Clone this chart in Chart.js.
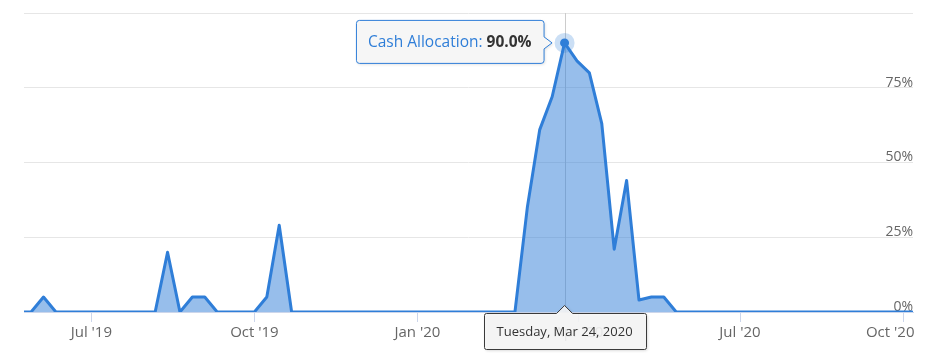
<!DOCTYPE html>
<html>
<head>
<meta charset="utf-8">
<script src="https://cdn.jsdelivr.net/npm/chart.js@4.4.0/dist/chart.umd.min.js"></script>
<style>
  html, body { margin: 0; padding: 0; background: #ffffff; }
  #wrap { width: 940px; height: 362px; }
</style>
</head>
<body>
<div id="wrap"><canvas id="c" width="940" height="362"></canvas></div>
<script>
// ---------------- data ----------------
const seriesName = 'Cash Allocation';
const firstWeek = '2019-05-21';          // weekly observations (Tuesdays)
const cashAllocation = [
  0, 0, 5, 0, 0, 0, 0, 0, 0, 0, 0, 0, 20, 0, 5, 5, 0, 0, 0, 0, 5, 29, 0,
  0, 0, 0, 0, 0, 0, 0, 0, 0, 0, 0, 0, 0, 0, 0, 0, 0, 0,
  35, 61, 72, 90, 84, 80, 63, 21, 44, 4, 5, 5, 0,
  0, 0, 0, 0, 0, 0, 0, 0, 0, 0, 0, 0, 0, 0, 0, 0, 0, 0, 0
];
const xTickDates = ['2019-07-01', '2019-10-01', '2020-01-01', '2020-04-01', '2020-07-01', '2020-10-01'];
const xTickLabels = ["Jul '19", "Oct '19", "Jan '20", "Apr '20", "Jul '20", "Oct '20"];
const yTickValues = [0, 25, 50, 75, 100];
const yTickLabels = ['0%', '25%', '50%', '75%', ''];
const viewStart = '2019-05-24';
const viewEnd = '2020-10-06';
const highlightDate = '2020-03-24';

// ---------------- helpers ----------------
const DAY = 86400000;
function toDay(s) { const [y, m, d] = s.split('-').map(Number); return Date.UTC(y, m - 1, d) / DAY; }
const weekDays = cashAllocation.map((_, i) => toDay(firstWeek) + i * 7);
const points = cashAllocation.map((v, i) => ({ x: weekDays[i], y: v }));
const xTickDays = xTickDates.map(toDay);
const hiIndex = weekDays.indexOf(toDay(highlightDate));

const DOW = ['Sunday', 'Monday', 'Tuesday', 'Wednesday', 'Thursday', 'Friday', 'Saturday'];
const MON = ['Jan', 'Feb', 'Mar', 'Apr', 'May', 'Jun', 'Jul', 'Aug', 'Sep', 'Oct', 'Nov', 'Dec'];
function fmtDate(day) {
  const d = new Date(day * DAY);
  return DOW[d.getUTCDay()] + ', ' + MON[d.getUTCMonth()] + ' ' + d.getUTCDate() + ', ' + d.getUTCFullYear();
}

const LINE = '#2f7ed8';
const FONT = '"Open Sans", "DejaVu Sans", sans-serif';

function calloutPath(ctx, x, y, w, h, r, caret) {
  ctx.beginPath();
  ctx.moveTo(x + r, y);
  if (caret && caret.side === 'top') {
    ctx.lineTo(caret.at - 8, y);
    ctx.lineTo(caret.at, y - 8);
    ctx.lineTo(caret.at + 8, y);
  }
  ctx.lineTo(x + w - r, y);
  ctx.arcTo(x + w, y, x + w, y + r, r);
  if (caret && caret.side === 'right') {
    ctx.lineTo(x + w, caret.at - 6);
    ctx.lineTo(x + w + 8, caret.at);
    ctx.lineTo(x + w, caret.at + 6);
  }
  ctx.lineTo(x + w, y + h - r);
  ctx.arcTo(x + w, y + h, x + w - r, y + h, r);
  ctx.lineTo(x + r, y + h);
  ctx.arcTo(x, y + h, x, y + h - r, r);
  ctx.lineTo(x, y + r);
  ctx.arcTo(x, y, x + r, y, r);
  ctx.closePath();
}

const overlay = {
  id: 'overlay',
  beforeDatasetsDraw(chart) {
    const el = chart.getDatasetMeta(0).data[hiIndex];
    const a = chart.chartArea;
    const ctx = chart.ctx;
    ctx.save();
    ctx.strokeStyle = '#cccccc';
    ctx.lineWidth = 1;
    ctx.beginPath();
    ctx.moveTo(Math.round(el.x) + 0.5, a.top);
    ctx.lineTo(Math.round(el.x) + 0.5, a.bottom);
    ctx.stroke();
    ctx.restore();
  },
  afterDraw(chart) {
    const el = chart.getDatasetMeta(0).data[hiIndex];
    const a = chart.chartArea;
    const ctx = chart.ctx;
    const px = el.x, py = el.y;
    ctx.save();
    // halo + marker
    ctx.fillStyle = 'rgba(47,126,216,0.25)';
    ctx.beginPath(); ctx.arc(px, py, 10, 0, Math.PI * 2); ctx.fill();
    ctx.fillStyle = LINE;
    ctx.beginPath(); ctx.arc(px, py, 4.5, 0, Math.PI * 2); ctx.fill();

    // value tooltip
    const labelTxt = seriesName + ': ';
    const valTxt = cashAllocation[hiIndex].toFixed(1) + '%';
    ctx.font = '15.5px ' + FONT;
    const w1 = ctx.measureText(labelTxt).width;
    ctx.font = 'bold 15.5px ' + FONT;
    const w2 = ctx.measureText(valTxt).width;
    const bw = w1 + w2 + 24, bh = 43;
    const bx = px - 21 - bw, by = py - 23;
    ctx.shadowColor = 'rgba(0,0,0,0.15)';
    ctx.shadowBlur = 3; ctx.shadowOffsetX = 1; ctx.shadowOffsetY = 1;
    calloutPath(ctx, bx + 0.5, by + 0.5, bw, bh, 3, { side: 'right', at: py });
    ctx.fillStyle = 'rgba(247,247,247,0.92)';
    ctx.fill();
    ctx.shadowColor = 'transparent';
    ctx.strokeStyle = LINE; ctx.lineWidth = 1; ctx.stroke();
    ctx.textBaseline = 'middle'; ctx.textAlign = 'left';
    ctx.font = '15.5px ' + FONT; ctx.fillStyle = LINE;
    ctx.fillText(labelTxt, bx + 12, by + bh / 2 + 1);
    ctx.font = 'bold 15.5px ' + FONT; ctx.fillStyle = '#333333';
    ctx.fillText(valTxt, bx + 12 + w1, by + bh / 2 + 1);

    // date label on x axis
    const dTxt = fmtDate(weekDays[hiIndex]);
    ctx.font = '13px ' + FONT;
    const dw = ctx.measureText(dTxt).width + 26, dh = 36;
    const dx = Math.round(px - dw / 2), dy = a.bottom + 1;
    ctx.shadowColor = 'rgba(0,0,0,0.2)';
    ctx.shadowBlur = 3; ctx.shadowOffsetX = 1; ctx.shadowOffsetY = 1;
    calloutPath(ctx, dx + 0.5, dy + 0.5, dw, dh, 2, { side: 'top', at: px });
    ctx.fillStyle = 'rgba(247,247,247,0.9)';
    ctx.fill();
    ctx.shadowColor = 'transparent';
    ctx.strokeStyle = '#3a3a3a'; ctx.lineWidth = 1; ctx.stroke();
    ctx.fillStyle = '#333333'; ctx.textAlign = 'center'; ctx.textBaseline = 'middle';
    ctx.fillText(dTxt, px, dy + dh / 2 + 1);
    ctx.restore();
  }
};

new Chart(document.getElementById('c'), {
  type: 'line',
  data: {
    datasets: [{
      label: seriesName,
      data: points,
      borderColor: LINE,
      backgroundColor: 'rgba(47,126,216,0.5)',
      borderWidth: 3,
      borderJoinStyle: 'round',
      borderCapStyle: 'round',
      fill: 'origin',
      tension: 0,
      pointRadius: 0,
      pointHoverRadius: 0
    }]
  },
  options: {
    responsive: false,
    animation: false,
    events: [],
    layout: { padding: { left: 24, right: 27, top: 13, bottom: 18 } },
    plugins: { legend: { display: false }, tooltip: { enabled: false } },
    scales: {
      x: {
        type: 'linear',
        min: toDay(viewStart),
        max: toDay(viewEnd) + 0.6,
        afterBuildTicks: (s) => { s.ticks = xTickDays.map(v => ({ value: v })); },
        afterFit: (s) => { s.paddingRight = 0; s.paddingLeft = 0; },
        ticks: {
          autoSkip: false, maxRotation: 0, padding: 2,
          color: '#666666', font: { family: FONT, size: 15 },
          // last label is kept inside the plot edge, as in the original
          callback: (v, i) => i === xTickLabels.length - 1
            ? xTickLabels[i] + '\u2007\u2007\u2007'
            : xTickLabels[i]
        },
        grid: { drawOnChartArea: false, drawTicks: true, tickLength: 10, color: '#ccd6eb' },
        border: { display: true, color: '#ccd6eb' }
      },
      y: {
        position: 'right',
        min: 0, max: 100,
        afterBuildTicks: (s) => { s.ticks = yTickValues.map(v => ({ value: v })); },
        ticks: {
          mirror: true, padding: 0, labelOffset: -5,
          color: '#666666', font: { family: FONT, size: 14 },
          callback: (v, i) => yTickLabels[i]
        },
        grid: { color: '#e6e6e6', drawTicks: false },
        border: { display: false }
      }
    }
  },
  plugins: [overlay]
});
</script>
</body>
</html>
